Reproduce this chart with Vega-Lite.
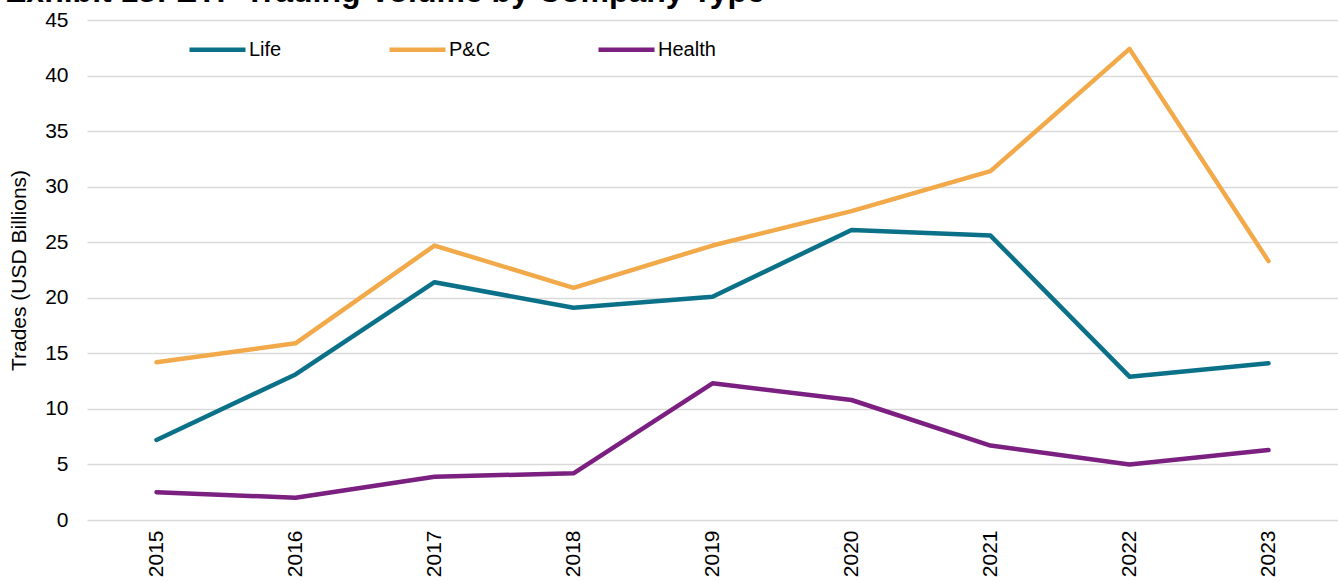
{
  "$schema": "https://vega.github.io/schema/vega-lite/v6.json",
  "autosize": "none",
  "width": 1251,
  "height": 500,
  "padding": {"left": 87, "top": 20, "right": 0, "bottom": 61},
  "background": "white",
  "title": {
    "text": "Exhibit 13: ETF Trading Volume by Company Type",
    "anchor": "start",
    "frame": "group",
    "dx": -82,
    "offset": -25,
    "baseline": "alphabetic",
    "font": "Liberation Sans",
    "fontSize": 32,
    "fontWeight": "bold",
    "color": "black"
  },
  "config": {
    "view": {"stroke": null},
    "font": "Liberation Sans"
  },
  "data": {
    "values": [
      {"year": "2015", "type": "Life", "value": 7.2},
      {"year": "2016", "type": "Life", "value": 13.1},
      {"year": "2017", "type": "Life", "value": 21.4},
      {"year": "2018", "type": "Life", "value": 19.1},
      {"year": "2019", "type": "Life", "value": 20.1},
      {"year": "2020", "type": "Life", "value": 26.1},
      {"year": "2021", "type": "Life", "value": 25.6},
      {"year": "2022", "type": "Life", "value": 12.9},
      {"year": "2023", "type": "Life", "value": 14.1},
      {"year": "2015", "type": "P&C", "value": 14.2},
      {"year": "2016", "type": "P&C", "value": 15.9},
      {"year": "2017", "type": "P&C", "value": 24.7},
      {"year": "2018", "type": "P&C", "value": 20.9},
      {"year": "2019", "type": "P&C", "value": 24.7},
      {"year": "2020", "type": "P&C", "value": 27.8},
      {"year": "2021", "type": "P&C", "value": 31.4},
      {"year": "2022", "type": "P&C", "value": 42.4},
      {"year": "2023", "type": "P&C", "value": 23.3},
      {"year": "2015", "type": "Health", "value": 2.5},
      {"year": "2016", "type": "Health", "value": 2.0},
      {"year": "2017", "type": "Health", "value": 3.9},
      {"year": "2018", "type": "Health", "value": 4.2},
      {"year": "2019", "type": "Health", "value": 12.3},
      {"year": "2020", "type": "Health", "value": 10.8},
      {"year": "2021", "type": "Health", "value": 6.7},
      {"year": "2022", "type": "Health", "value": 5.0},
      {"year": "2023", "type": "Health", "value": 6.3}
    ]
  },
  "mark": {"type": "line", "strokeWidth": 4.5, "strokeCap": "round", "strokeJoin": "round"},
  "encoding": {
    "x": {
      "field": "year",
      "type": "ordinal",
      "scale": {"type": "point", "padding": 0.5},
      "axis": {
        "title": null,
        "labelAngle": 270,
        "labelAlign": "right",
        "labelBaseline": "middle",
        "labelPadding": 10,
        "labelFontSize": 21,
        "labelColor": "black",
        "ticks": false,
        "domain": false,
        "grid": false
      }
    },
    "y": {
      "field": "value",
      "type": "quantitative",
      "scale": {"domain": [0, 45], "nice": false},
      "axis": {
        "title": "Trades (USD Billions)",
        "titleFontSize": 21,
        "titleFontWeight": "normal",
        "titleColor": "black",
        "titlePadding": 15,
        "values": [0, 5, 10, 15, 20, 25, 30, 35, 40, 45],
        "labelFontSize": 21,
        "labelColor": "black",
        "labelPadding": 19,
        "ticks": false,
        "domain": false,
        "grid": true,
        "gridColor": "#D9D9D9",
        "gridWidth": 1.5
      }
    },
    "color": {
      "field": "type",
      "type": "nominal",
      "sort": ["Life", "P&C", "Health"],
      "scale": {
        "domain": ["Life", "P&C", "Health"],
        "range": ["#0B7189", "#F2A94A", "#7B1F80"]
      },
      "legend": {
        "title": null,
        "orient": "none",
        "direction": "horizontal",
        "legendX": 100,
        "legendY": -1,
        "symbolType": "stroke",
        "symbolSize": 3136,
        "symbolStrokeWidth": 4.5,
        "labelFontSize": 20,
        "labelColor": "black",
        "labelOffset": 1,
        "columnPadding": 98
      }
    }
  }
}
